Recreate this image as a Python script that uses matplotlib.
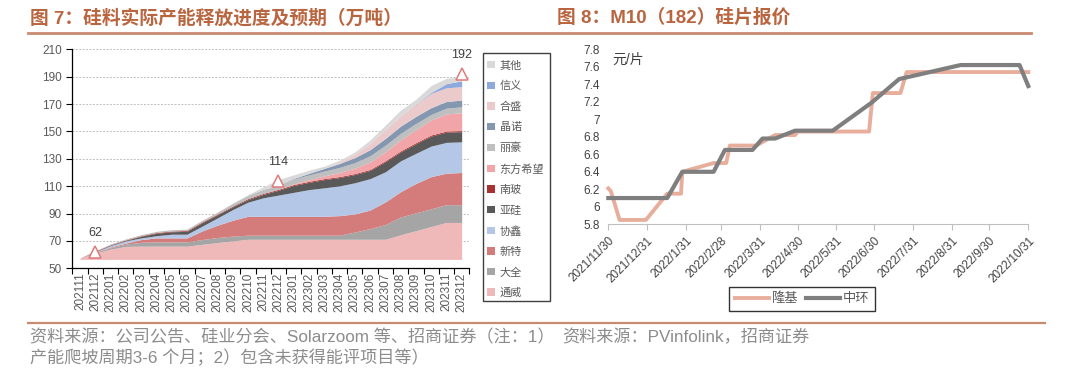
import numpy as np
import matplotlib
matplotlib.use("Agg")
import matplotlib.pyplot as plt
from matplotlib.patches import Patch, Rectangle
from matplotlib.lines import Line2D
import pandas as pd

plt.rcParams['font.family'] = ['Liberation Sans', 'Noto Sans CJK SC']

# ---- left chart: polysilicon capacity release (10k t) ----
months = ['202111', '202112', '202201', '202202', '202203', '202204', '202205',
          '202206', '202207', '202208', '202209', '202210', '202211', '202212',
          '202301', '202302', '202303', '202304', '202305', '202306', '202307',
          '202308', '202309', '202310', '202311', '202312']
base_level = 56.5

tongwei = [1, 4.5, 7.5, 9.5, 9.7, 9.7, 9.7, 9.7, 11, 12.3, 13.5, 14.7, 14.7, 14.7,
           14.7, 14.7, 14.7, 14.7, 14.7, 14.7, 14.7, 18, 21, 24, 27, 27]
daquan = [0, 0.5, 1.1, 1.6, 2.8, 3.1, 3.1, 3.1, 3.5, 3.7, 3.5, 3, 3, 3, 3, 3, 3, 3,
          5.3, 7.8, 10.8, 13, 13, 13, 13, 13]
xinte = [0, 0.3, 0.5, 0.8, 2, 2.9, 2.9, 2.9, 6.3, 9, 11.6, 13.8, 13.8, 13.8, 13.8,
         13.8, 13.8, 14.3, 13.2, 13.6, 16.5, 18.5, 21.5, 23.5, 23, 23.5]
xiexin = [0, 0.2, 1, 1.6, 1.2, 1.6, 2.7, 2.7, 3.5, 5.3, 7.8, 10.3, 13.5, 15.5, 17.5,
          19.5, 20.8, 21.7, 22.8, 22.9, 22, 22.5, 22, 22.3, 22.5, 22.4]
yagui = [0, 0.3, 0.4, 0.4, 1.2, 1.8, 1.8, 2.1, 2.5, 2.2, 2, 1.9, 2.5, 3.5, 5, 5.3,
         6, 6.1, 6, 6, 7.3, 6.5, 7, 7.3, 7.5, 7.4]
nanbo = [0, 0.3, 0.3, 0.4, 0.4, 0.5, 0.5, 0.6, 0.6, 0.6, 0.6, 0.7, 0.7, 0.7, 0.7,
         0.7, 0.7, 0.7, 0.7, 0.7, 0.8, 0.8, 0.8, 0.8, 0.8, 0.8]
dongfang = [0] * 14 + [0.5, 1.2, 2, 3, 4, 5.5, 6.5, 8, 9.5, 11, 12.5, 13]
lihao = [0, 0.2, 0.5, 0.7, 0.8, 0.9, 1, 1, 1.2, 1.5, 2, 2.5, 3, 3.2, 3.5, 3.5, 3.5,
         3.7, 4, 4.5, 4.8, 4.8, 4.5, 4, 4.2, 4.4]
jingnuo = [0] * 14 + [0.5, 1.2, 2, 2.9, 3.7, 4.5, 5, 5.3, 5.2, 5, 4.9, 4.9]
hesheng = [0] * 17 + [0.8, 2.4, 4.5, 6.5, 7.5, 9, 10.4, 10, 9.8]
xinyi = [0] * 22 + [0.2, 0.8, 3, 4.3]
qita = [0, 0.2, 0, 0, 0, 0, 0, 0, 0, 0, 0, 0.5, 1.8, 4, 2.6, 2.3, 1.6, 1.6, 1.7,
        2.5, 3.2, 4.2, 3.3, 5, 3.9, 3]

layer_names = ['通威', '大全', '新特', '协鑫', '亚硅', '南玻', '东方希望', '丽豪',
               '晶诺', '合盛', '信义', '其他']
layer_vals = [tongwei, daquan, xinte, xiexin, yagui, nanbo, dongfang, lihao,
              jingnuo, hesheng, xinyi, qita]
layer_colors = ['#F0B9B9', '#A5A5A5', '#D47C7C', '#B4C7E7', '#595959', '#A83232',
                '#F1A5A8', '#BFBFBF', '#8497B0', '#EBCACB', '#8EA9DB', '#D9D9D9']

mark_idx = [1, 13, 25]
mark_vals = [62, 114, 192]

# ---- right chart: M10 wafer price ----
longi_dates = ['2021-11-30', '2021-12-02', '2021-12-09', '2021-12-30', '2022-01-16',
               '2022-01-27', '2022-01-28', '2022-02-22', '2022-03-04', '2022-03-07',
               '2022-03-28', '2022-04-12', '2022-04-28', '2022-04-30', '2022-06-26',
               '2022-06-29', '2022-07-21', '2022-07-26', '2022-10-31']
longi_price = [6.21, 6.18, 5.85, 5.85, 6.15, 6.15, 6.40, 6.50, 6.50, 6.70, 6.70,
               6.82, 6.82, 6.86, 6.86, 7.30, 7.30, 7.54, 7.54]
zhonghuan_dates = ['2021-11-30', '2022-01-16', '2022-01-28', '2022-02-22', '2022-03-03',
                   '2022-03-25', '2022-04-02', '2022-04-12', '2022-04-28', '2022-05-28',
                   '2022-06-28', '2022-07-20', '2022-09-07', '2022-10-24', '2022-10-31']
zhonghuan_price = [6.10, 6.10, 6.40, 6.40, 6.65, 6.65, 6.78, 6.78, 6.87, 6.87,
                   7.19, 7.46, 7.62, 7.62, 7.38]
tick_dates = ['2021-11-30', '2021-12-31', '2022-01-31', '2022-02-28', '2022-03-31',
              '2022-04-30', '2022-05-31', '2022-06-30', '2022-07-31', '2022-08-31',
              '2022-09-30', '2022-10-31']
tick_labels = ['2021/11/30', '2021/12/31', '2022/1/31', '2022/2/28', '2022/3/31',
               '2022/4/30', '2022/5/31', '2022/6/30', '2022/7/31', '2022/8/31',
               '2022/9/30', '2022/10/31']

W, H = 1080, 377
fig = plt.figure(figsize=(W / 100, H / 100), dpi=100)
title_c = '#B9653F'
rule_c = '#C98A72'
txt_c = '#404040'

def fx(px):
    return px / W

def fy(py):
    return 1 - py / H

# titles and rules
fig.text(fx(30), fy(18), '图 7：硅料实际产能释放进度及预期（万吨）', color=title_c,
         fontsize=13.5, fontweight='bold', va='center', ha='left')
fig.text(fx(557), fy(18), '图 8：M10（182）硅片报价', color=title_c,
         fontsize=13.5, fontweight='bold', va='center', ha='left')
fig.add_artist(Line2D([fx(28), fx(1031)], [fy(33), fy(33)], color=rule_c, lw=2))
fig.add_artist(Line2D([fx(28), fx(1045)], [fy(323), fy(323)], color=rule_c, lw=1.6))

# ---- left axes ----
ax1 = fig.add_axes([fx(72.4), fy(268.3), fx(469.3 - 72.4), (268.3 - 49.3) / H])
x = np.arange(len(months))
bottom = np.full(len(months), base_level)
for vals, col in zip(layer_vals, layer_colors):
    top = bottom + np.array(vals)
    ax1.fill_between(x, bottom, top, color=col, lw=0)
    bottom = top

ax1.plot(mark_idx, mark_vals, ls='none', marker='^', ms=8, mfc='white',
         mec='#E07A7A', mew=1.1, zorder=5)
for i, v in zip(mark_idx, mark_vals):
    ax1.annotate(str(v), (i, v), xytext=(0, 9), textcoords='offset points',
                 ha='center', va='bottom', fontsize=9, color=txt_c)

ax1.set_xlim(-0.5, len(months) - 0.5)
ax1.set_ylim(50, 210)
ax1.set_yticks(np.arange(50, 211, 20))
for yv in np.arange(70, 211, 20):
    ax1.axhline(yv, color='#BFBFBF', lw=0.7, ls=(0, (2, 1.5)), zorder=0)
ax1.set_xticks(np.arange(-0.5, len(months), 1))
ax1.set_xticklabels([])
ax1.set_xticks(x, minor=True)
ax1.set_xticklabels(months, minor=True, rotation=90, fontsize=8.5, color='#595959')
ax1.tick_params(axis='x', which='minor', length=0, pad=3)
ax1.tick_params(axis='x', which='major', length=4, width=0.8, color='black')
ax1.tick_params(axis='y', length=4, width=0.8, labelsize=8.5, labelcolor='#595959')
for s in ['top', 'right']:
    ax1.spines[s].set_visible(False)
for s in ['left', 'bottom']:
    ax1.spines[s].set_linewidth(0.9)

handles = [Patch(facecolor=c, edgecolor='none', label=n)
           for n, c in zip(layer_names, layer_colors)][::-1]
fig.legend(handles=handles, loc='upper left', bbox_to_anchor=(fx(484), fy(57)),
           frameon=False, fontsize=8, handlelength=0.65, handleheight=0.65,
           handletextpad=0.45, labelspacing=0.93, borderaxespad=0, borderpad=0.3,
           labelcolor='#595959')
fig.add_artist(Rectangle((fx(483), fy(301)), fx(550 - 483), (301 - 53) / H,
                         fill=False, edgecolor='#404040', lw=1))

# ---- right axes ----
ax2 = fig.add_axes([fx(608.3), fy(224.3), fx(1028.3 - 608.3), (224.3 - 49.3) / H])
ax2.plot(pd.to_datetime(longi_dates), longi_price, color='#E8AE9C', lw=2.8,
         label='隆基', clip_on=False)
ax2.plot(pd.to_datetime(zhonghuan_dates), zhonghuan_price, color='#7F7F7F', lw=3,
         label='中环', clip_on=False)
ax2.set_xlim(pd.Timestamp('2021-11-30'), pd.Timestamp('2022-10-31'))
ax2.set_ylim(5.8, 7.8)
ax2.set_yticks(np.round(np.arange(5.8, 7.81, 0.2), 1))
ax2.set_yticklabels(['5.8', '6', '6.2', '6.4', '6.6', '6.8', '7', '7.2', '7.4',
                     '7.6', '7.8'])
ax2.set_xticks(pd.to_datetime(tick_dates))
ax2.set_xticklabels(tick_labels, rotation=45, ha='right', rotation_mode='anchor')
ax2.tick_params(axis='y', length=0, labelsize=8.5, labelcolor='#404040', pad=6)
ax2.tick_params(axis='x', length=4, width=0.8, color='#BFBFBF', labelsize=8.5,
                labelcolor='#404040')
for s in ['top', 'right', 'left']:
    ax2.spines[s].set_visible(False)
ax2.spines['bottom'].set_color('#BFBFBF')
ax2.text(0.01, 0.94, '元/片', transform=ax2.transAxes, fontsize=10, color=txt_c,
         va='center', ha='left')
fig.legend(handles=ax2.get_lines(), loc='center', bbox_to_anchor=(fx(802), fy(299)),
           ncol=2, fontsize=9.5, frameon=True, fancybox=False, edgecolor='black',
           handlelength=2.6, handletextpad=0.2, columnspacing=0.6, borderpad=0.4,
           labelcolor='#595959')

# footer
foot_c = '#8C8C8C'
fig.text(fx(30), fy(337), '资料来源：公司公告、硅业分会、Solarzoom 等、招商证券（注：1）',
         fontsize=12.3, color=foot_c, va='center', ha='left')
fig.text(fx(562), fy(337), '资料来源：PVinfolink，招商证券', fontsize=12.3,
         color=foot_c, va='center', ha='left')
fig.text(fx(30), fy(358), '产能爬坡周期3-6 个月；2）包含未获得能评项目等）',
         fontsize=12.3, color=foot_c, va='center', ha='left')

fig.savefig('out.png', dpi=100)
